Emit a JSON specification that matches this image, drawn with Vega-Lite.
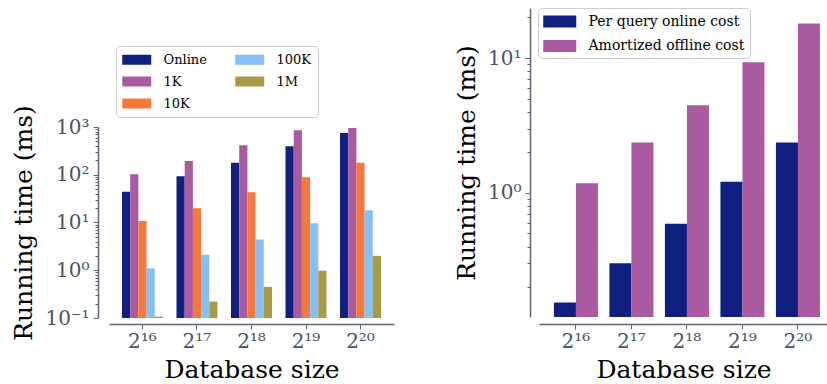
{
  "$schema": "https://vega.github.io/schema/vega-lite/v6.json",
  "padding": {"left": 11, "top": 7, "right": 0, "bottom": 0},
  "background": "white",
  "spacing": 60,
  "resolve": {
    "scale": {"color": "independent", "x": "independent", "y": "independent", "xOffset": "independent"},
    "legend": {"color": "independent"}
  },
  "config": {
    "font": "DejaVu Serif",
    "view": {"stroke": null},
    "axis": {
      "grid": false,
      "domainColor": "#5b6470",
      "domainWidth": 1.5,
      "tickColor": "#5b6470",
      "tickWidth": 1,
      "labelColor": "#4a5466",
      "labelFont": "DejaVu Serif",
      "labelFontSize": 20,
      "titleFont": "DejaVu Serif",
      "titleFontSize": 25,
      "titleFontWeight": "normal",
      "titleColor": "black"
    },
    "legend": {
      "labelFont": "DejaVu Serif",
      "labelColor": "black",
      "strokeColor": "#cccccc",
      "fillColor": "white",
      "cornerRadius": 4,
      "symbolStrokeWidth": 0,
      "symbolOpacity": 1
    }
  },
  "datasets": {
    "left": [
      {"size": "2¹⁶", "method": "Online", "ms": 44},
      {"size": "2¹⁶", "method": "1K", "ms": 102},
      {"size": "2¹⁶", "method": "10K", "ms": 10.8},
      {"size": "2¹⁶", "method": "100K", "ms": 1.1},
      {"size": "2¹⁶", "method": "1M", "ms": 0.107},
      {"size": "2¹⁷", "method": "Online", "ms": 93},
      {"size": "2¹⁷", "method": "1K", "ms": 195},
      {"size": "2¹⁷", "method": "10K", "ms": 20},
      {"size": "2¹⁷", "method": "100K", "ms": 2.1},
      {"size": "2¹⁷", "method": "1M", "ms": 0.22},
      {"size": "2¹⁸", "method": "Online", "ms": 178},
      {"size": "2¹⁸", "method": "1K", "ms": 415},
      {"size": "2¹⁸", "method": "10K", "ms": 43},
      {"size": "2¹⁸", "method": "100K", "ms": 4.4},
      {"size": "2¹⁸", "method": "1M", "ms": 0.45},
      {"size": "2¹⁹", "method": "Online", "ms": 395},
      {"size": "2¹⁹", "method": "1K", "ms": 850},
      {"size": "2¹⁹", "method": "10K", "ms": 89},
      {"size": "2¹⁹", "method": "100K", "ms": 9.6},
      {"size": "2¹⁹", "method": "1M", "ms": 0.98},
      {"size": "2²⁰", "method": "Online", "ms": 750},
      {"size": "2²⁰", "method": "1K", "ms": 950},
      {"size": "2²⁰", "method": "10K", "ms": 178},
      {"size": "2²⁰", "method": "100K", "ms": 18},
      {"size": "2²⁰", "method": "1M", "ms": 2.0}
    ],
    "right": [
      {"size": "2¹⁶", "cost": "Per query online cost", "ms": 0.154},
      {"size": "2¹⁶", "cost": "Amortized offline cost", "ms": 1.18},
      {"size": "2¹⁷", "cost": "Per query online cost", "ms": 0.30},
      {"size": "2¹⁷", "cost": "Amortized offline cost", "ms": 2.36},
      {"size": "2¹⁸", "cost": "Per query online cost", "ms": 0.59},
      {"size": "2¹⁸", "cost": "Amortized offline cost", "ms": 4.47},
      {"size": "2¹⁹", "cost": "Per query online cost", "ms": 1.21},
      {"size": "2¹⁹", "cost": "Amortized offline cost", "ms": 9.3},
      {"size": "2²⁰", "cost": "Per query online cost", "ms": 2.36},
      {"size": "2²⁰", "cost": "Amortized offline cost", "ms": 18.0}
    ]
  },
  "hconcat": [
    {
      "spacing": 0,
      "bounds": "flush",
      "resolve": {"scale": {"color": "independent"}, "legend": {"color": "independent"}},
      "vconcat": [
        {
          "width": 285,
          "height": 119,
          "data": {"name": "left"},
          "transform": [{"filter": "false"}],
          "mark": {"type": "square", "filled": true, "opacity": 1},
          "encoding": {
            "color": {
              "field": "method",
              "type": "nominal",
              "scale": {
                "domain": ["Online", "1K", "10K", "100K", "1M"],
                "range": ["#0f2080", "#a95aa1", "#f5793a", "#85c0f9", "#a99a45"]
              },
              "legend": {
                "title": null,
                "orient": "none",
                "legendX": 7,
                "legendY": 38,
                "columns": 2,
                "labelFontSize": 13,
                "symbolType": "M-1,-0.69H3V0.69H-1Z",
                "symbolSize": 210.25,
                "rowPadding": 7,
                "columnPadding": 28,
                "labelOffset": 26.5,
                "padding": 6
              }
            }
          }
        },
        {
          "width": 285,
          "height": 191,
          "data": {"name": "left"},
          "mark": {"type": "bar"},
          "encoding": {
            "x": {
              "field": "size",
              "type": "nominal",
              "sort": ["2¹⁶", "2¹⁷", "2¹⁸", "2¹⁹", "2²⁰"],
              "scale": {"paddingInner": 0.248, "paddingOuter": 0.2385},
              "title": "Database size",
              "axis": {"labelAngle": 0, "offset": 6, "tickSize": 5, "labelPadding": 2, "titlePadding": 6}
            },
            "xOffset": {
              "field": "method",
              "type": "nominal",
              "sort": ["Online", "1K", "10K", "100K", "1M"]
            },
            "y": {
              "field": "ms",
              "type": "quantitative",
              "scale": {"type": "log", "domain": [0.1, 1000]},
              "title": "Running time (ms)",
              "axis": {
                "offset": 11,
                "values": [0.1, 0.2, 0.3, 0.4, 0.5, 0.6, 0.7, 0.8, 0.9, 1, 2, 3, 4, 5, 6, 7, 8, 9, 10, 20, 30, 40, 50, 60, 70, 80, 90, 100, 200, 300, 400, 500, 600, 700, 800, 900, 1000],
                "labelExpr": "datum.value == 0.1 ? '10⁻¹' : datum.value == 1 ? '10⁰' : datum.value == 10 ? '10¹' : datum.value == 100 ? '10²' : datum.value == 1000 ? '10³' : ''",
                "labelOverlap": false,
                "labelPadding": 4,
                "titlePadding": 8,
                "tickSize": {"condition": {"test": "indexof([0.1, 1, 10, 100, 1000], datum.value) >= 0", "value": 5}, "value": 3}
              }
            },
            "y2": {"datum": 0.1},
            "color": {
              "field": "method",
              "type": "nominal",
              "scale": {
                "domain": ["Online", "1K", "10K", "100K", "1M"],
                "range": ["#0f2080", "#a95aa1", "#f5793a", "#85c0f9", "#a99a45"]
              },
              "legend": null
            }
          }
        }
      ]
    },
    {
      "width": 289,
      "height": 309,
      "data": {"name": "right"},
      "mark": {"type": "bar"},
      "encoding": {
        "x": {
          "field": "size",
          "type": "nominal",
          "sort": ["2¹⁶", "2¹⁷", "2¹⁸", "2¹⁹", "2²⁰"],
          "scale": {"paddingInner": 0.207, "paddingOuter": 0.207, "align": 0.65},
          "title": "Database size",
          "axis": {"labelAngle": 0, "offset": 7, "tickSize": 5, "labelPadding": 2, "titlePadding": 6}
        },
        "xOffset": {
          "field": "cost",
          "type": "nominal",
          "sort": ["Per query online cost", "Amortized offline cost"]
        },
        "y": {
          "field": "ms",
          "type": "quantitative",
          "scale": {"type": "log", "domain": [0.12, 23.5]},
          "title": "Running time (ms)",
          "axis": {
            "offset": 9,
            "values": [0.2, 0.3, 0.4, 0.5, 0.6, 0.7, 0.8, 0.9, 1, 2, 3, 4, 5, 6, 7, 8, 9, 10, 20],
            "labelExpr": "datum.value == 1 ? '10⁰' : datum.value == 10 ? '10¹' : ''",
            "labelOverlap": false,
            "labelPadding": 4,
            "titlePadding": 8,
            "tickSize": {"condition": {"test": "datum.value == 1 || datum.value == 10", "value": 5}, "value": 3}
          }
        },
        "y2": {"datum": 0.12},
        "color": {
          "field": "cost",
          "type": "nominal",
          "scale": {
            "domain": ["Per query online cost", "Amortized offline cost"],
            "range": ["#0f2080", "#a95aa1"]
          },
          "legend": {
            "title": null,
            "orient": "none",
            "legendX": -1,
            "legendY": 0,
            "labelFontSize": 14,
            "symbolType": "M-1,-0.72H3V0.72H-1Z",
            "symbolSize": 272.25,
            "rowPadding": 8.5,
            "labelOffset": 28.5,
            "padding": 5
          }
        }
      }
    }
  ]
}
